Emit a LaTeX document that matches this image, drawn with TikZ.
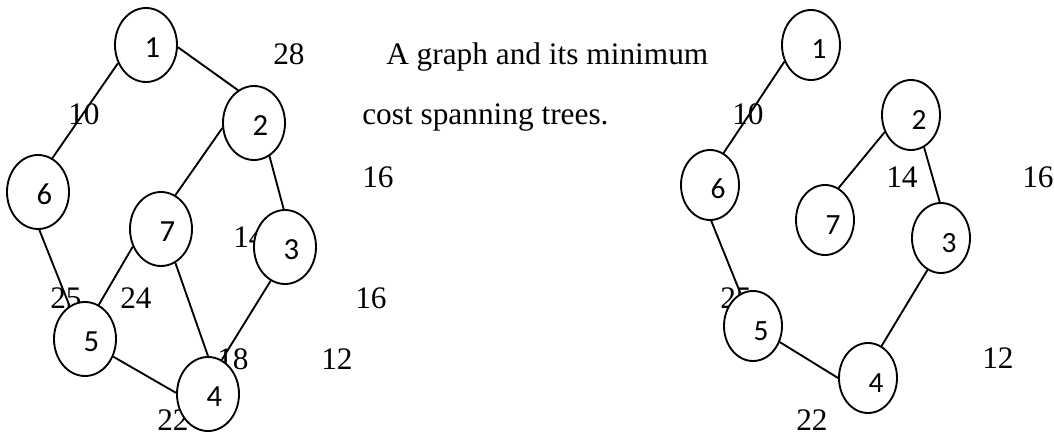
\documentclass[tikz,border=0pt]{standalone}
\usepackage{fontspec}
\setmainfont{Liberation Serif}
\newfontfamily\nodefont{Carlito}
\usetikzlibrary{shapes.geometric}
\newcommand{\lablft}[1]{\hspace*{9.5pt}{\nodefont\fontsize{23}{23}\selectfont #1}}
\newcommand{\labrgt}[1]{\hspace*{12pt}{\nodefont\fontsize{22}{22}\selectfont #1}}
\begin{document}
\begin{tikzpicture}[x=0.75pt,y=-0.75pt,
  lnode/.style={ellipse,draw,fill=white,line width=1.4pt,minimum width=46.5pt,minimum height=55.5pt,inner sep=0pt,
    text height=19pt,text depth=0pt},
  rnode/.style={lnode,minimum width=43.5pt,minimum height=52.5pt,text height=21pt},
  wt/.style={anchor=base west,inner sep=0pt,font=\fontsize{23.5}{28}\selectfont},
  link/.style={line width=1.4pt}]
\useasboundingbox (0,0) rectangle (1054,435);
% weights and caption (left)
\node[wt] (w28) at (273,65) {28};
\node[wt] (cap1) at (386,65) {A graph and its minimum};
\node[wt] (cap2) at (362,124) {cost spanning trees.};
\node[wt] (w10) at (68,124) {10};
\node[wt] (w16a) at (362,187) {16};
\node[wt] (w14) at (233,247) {14};
\node[wt] (w25) at (50,308) {25};
\node[wt] (w24) at (120,308) {24};
\node[wt] (w16b) at (355,308) {16};
\node[wt] (w18) at (217,369) {18};
\node[wt] (w12) at (321,369) {12};
\node[wt] (w22) at (157,430) {22};
% weights (right)
\node[wt] (r10) at (732,125) {10};
\node[wt] (r14) at (886,187) {14};
\node[wt] (r16) at (1022,187) {16};
\node[wt] (r25) at (720,308) {25};
\node[wt] (r12) at (982,368) {12};
\node[wt] (r22) at (796,430) {22};
% left graph nodes
\node[lnode] (l1) at (146,45) {\lablft{1}};
\node[lnode] (l2) at (254,123) {\lablft{2}};
\node[lnode] (l6) at (38,192) {\lablft{6}};
\node[lnode] (l7) at (161,229) {\lablft{7}};
\node[lnode] (l3) at (285,247) {\lablft{3}};
\node[lnode] (l5) at (85,339) {\lablft{5}};
\node[lnode] (l4) at (208,394) {\lablft{4}};
% right graph nodes
\node[rnode] (r1) at (811,45) {\labrgt{1}};
\node[rnode] (r2) at (911,115) {\labrgt{2}};
\node[rnode] (r6) at (710,185) {\labrgt{6}};
\node[rnode] (r7) at (825,220) {\labrgt{7}};
\node[rnode] (r3) at (941,238) {\labrgt{3}};
\node[rnode] (r5) at (753,326) {\labrgt{5}};
\node[rnode] (r4) at (868,378) {\labrgt{4}};
% left edges
\draw[link] (l1.-4) -- (l2.116);
\draw[link] (l1.213) -- (l6.67);
\draw[link] (l2.189) -- (l7.67);
\draw[link] (l2.-65) -- (l3.92);
\draw[link] (l6.-88) -- (l5.115);
\draw[link] (l7.212) -- (l5.68);
\draw[link] (l7.-67) -- (l4.90);
\draw[link] (l3.247) -- (l4.68);
\draw[link] (l5.-32) -- (l4.178);
% right edges
\draw[link] (r1.212) -- (r6.67);
\draw[link] (r2.213) -- (r7.67);
\draw[link] (r2.-68) -- (r3.92);
\draw[link] (r6.-88) -- (r5.111);
\draw[link] (r3.247) -- (r4.67);
\draw[link] (r5.-31) -- (r4.180);
\end{tikzpicture}
\end{document}
